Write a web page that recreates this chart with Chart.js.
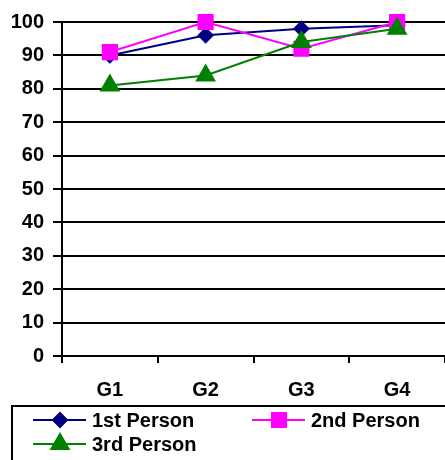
<!DOCTYPE html>
<html>
<head>
<meta charset="utf-8">
<script src="https://cdn.jsdelivr.net/npm/chart.js@4/dist/chart.umd.min.js"></script>
<style>
  html, body { margin: 0; padding: 0; background: #fff; }
  #wrap { width: 445px; height: 460px; position: relative; }
</style>
</head>
<body>
<div id="wrap"><canvas id="c" width="445" height="460"></canvas></div>
<script>
// Categories and series
const categories = ['G1', 'G2', 'G3', 'G4'];
const firstPerson = [90, 96, 98, 99];
const secondPerson = [91, 100, 92, 100];
const thirdPerson = [81, 84, 94, 98];
const yTicks = [0, 10, 20, 30, 40, 50, 60, 70, 80, 90, 100];

const FONT = '"Liberation Sans", Arial, sans-serif';

// Boxed legend below the axis: line sample with marker, then label
const boxLegend = {
  id: 'boxLegend',
  afterDraw(chart) {
    const ctx = chart.ctx;
    ctx.save();
    ctx.strokeStyle = '#000';
    ctx.lineWidth = 2;
    ctx.strokeRect(12, 406, 450, 70);
    const slots = [
      { x: 33, y: 420 },
      { x: 252, y: 420 },
      { x: 33, y: 444 }
    ];
    chart.data.datasets.forEach((ds, i) => {
      const s = slots[i];
      ctx.strokeStyle = ds.borderColor;
      ctx.lineWidth = 2;
      ctx.beginPath();
      ctx.moveTo(s.x, s.y);
      ctx.lineTo(s.x + 53, s.y);
      ctx.stroke();
      ctx.fillStyle = ds.pointBackgroundColor;
      ctx.strokeStyle = ds.pointBorderColor;
      Chart.helpers.drawPoint(ctx, {
        pointStyle: ds.pointStyle,
        radius: ds.pointRadius,
        rotation: 0,
        borderWidth: 1
      }, s.x + 27, s.y);
      ctx.fillStyle = '#000';
      ctx.font = 'bold 20px ' + FONT;
      ctx.textBaseline = 'middle';
      ctx.textAlign = 'left';
      ctx.fillText(ds.label, s.x + 59, s.y + 1);
    });
    ctx.restore();
  }
};

new Chart(document.getElementById('c'), {
  type: 'line',
  data: {
    labels: categories,
    datasets: [
      {
        label: '1st Person',
        data: firstPerson,
        borderColor: '#000080',
        borderWidth: 2,
        pointStyle: 'rectRot',
        pointRadius: 7,
        pointBackgroundColor: '#000080',
        pointBorderColor: '#000080',
        tension: 0,
        clip: false,
        order: 3
      },
      {
        label: '2nd Person',
        data: secondPerson,
        borderColor: '#FF00FF',
        borderWidth: 2,
        pointStyle: 'rect',
        pointRadius: 10,
        pointBackgroundColor: '#FF00FF',
        pointBorderColor: '#FF00FF',
        tension: 0,
        clip: false,
        order: 2
      },
      {
        label: '3rd Person',
        data: thirdPerson,
        borderColor: '#008000',
        borderWidth: 2,
        pointStyle: 'triangle',
        pointRadius: 10,
        pointBackgroundColor: '#008000',
        pointBorderColor: '#008000',
        tension: 0,
        clip: false,
        order: 1
      }
    ]
  },
  options: {
    responsive: false,
    animation: false,
    layout: { autoPadding: false, padding: { top: 22, right: 0, bottom: 64, left: 0 } },
    plugins: {
      legend: { display: false },
      tooltip: { enabled: false }
    },
    scales: {
      x: {
        offset: true,
        grid: {
          display: true,
          offset: true,
          drawOnChartArea: false,
          drawTicks: true,
          tickLength: 7,
          color: '#000',
          lineWidth: 2
        },
        border: { display: true, color: '#000', width: 2 },
        ticks: {
          color: '#000',
          padding: 15,
          font: { family: FONT, size: 20, weight: 'bold' }
        },
        afterFit(scale) {
          scale.height = 40;
          scale.paddingLeft = 0;
          scale.paddingRight = 0;
        }
      },
      y: {
        min: 0,
        max: 100,
        afterBuildTicks(scale) { scale.ticks = yTicks.map(v => ({ value: v })); },
        grid: {
          color: '#000',
          lineWidth: 2,
          drawTicks: true,
          tickLength: 9
        },
        border: { display: true, color: '#000', width: 2 },
        ticks: {
          color: '#000',
          padding: 9,
          font: { family: FONT, size: 20, weight: 'bold' }
        },
        afterFit(scale) { scale.width = 62; }
      }
    }
  },
  plugins: [boxLegend]
});
</script>
</body>
</html>
